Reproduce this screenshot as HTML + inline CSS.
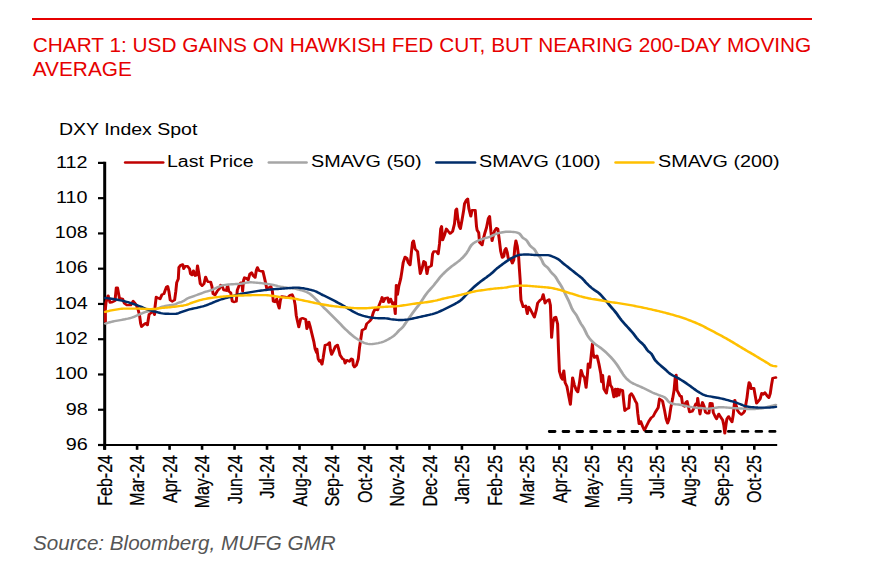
<!DOCTYPE html>
<html><head><meta charset="utf-8"><title>Chart 1</title>
<style>
html,body{margin:0;padding:0;background:#fff;}
body{width:878px;height:585px;position:relative;overflow:hidden;font-family:"Liberation Sans",sans-serif;}
.rule{position:absolute;left:32px;top:17.8px;width:780px;height:2.2px;background:#e60000;}
.title{position:absolute;left:32.8px;top:33px;width:800px;font-size:20.8px;line-height:24.3px;color:#e60000;white-space:nowrap;}
.src{position:absolute;left:33px;top:531px;font-size:20.63px;line-height:24px;font-style:italic;color:#555;white-space:nowrap;}
.t{position:absolute;font-size:16px;line-height:18px;color:#000;white-space:nowrap;transform-origin:0 50%;transform:scaleX(1.235);}
.yl{position:absolute;font-size:16px;line-height:18px;color:#000;white-space:nowrap;transform-origin:100% 50%;transform:scaleX(1.235);right:790.2px;text-align:right;}
.xl{-webkit-text-stroke:0.2px #000;position:absolute;font-size:16px;line-height:18px;height:18px;color:#000;white-space:nowrap;transform-origin:0 0;}
svg{position:absolute;left:0;top:0;}
</style></head><body>
<div class="rule"></div>
<div class="title">CHART 1: USD GAINS ON HAWKISH FED CUT, BUT NEARING 200-DAY MOVING<br>AVERAGE</div>

<div class="t" style="left:58.9px;top:121px;transform:scaleX(1.218)">DXY Index Spot</div>
<div class="t" style="left:167.3px;top:153px;transform:scaleX(1.218)">Last Price</div>
<div class="t" style="left:310.5px;top:153px;transform:scaleX(1.235)">SMAVG (50)</div>
<div class="t" style="left:478.8px;top:153px;transform:scaleX(1.235)">SMAVG (100)</div>
<div class="t" style="left:657.6px;top:153px;transform:scaleX(1.235)">SMAVG (200)</div>
<div class="yl" style="top:154px">112</div>
<div class="yl" style="top:189px">110</div>
<div class="yl" style="top:224px">108</div>
<div class="yl" style="top:259px">106</div>
<div class="yl" style="top:295px">104</div>
<div class="yl" style="top:330px">102</div>
<div class="yl" style="top:365px">100</div>
<div class="yl" style="top:401px">98</div>
<div class="yl" style="top:436px">96</div>
<svg width="878" height="585" viewBox="0 0 878 585"><line x1="104.7" y1="161.8" x2="104.7" y2="449.8" stroke="#000" stroke-width="3"/>
<line x1="103.3" y1="445.0" x2="777.2" y2="445.0" stroke="#000" stroke-width="2.2"/>
<line x1="98" y1="162.90" x2="104.7" y2="162.90" stroke="#000" stroke-width="2.2"/>
<line x1="98" y1="198.16" x2="104.7" y2="198.16" stroke="#000" stroke-width="2.2"/>
<line x1="98" y1="233.43" x2="104.7" y2="233.43" stroke="#000" stroke-width="2.2"/>
<line x1="98" y1="268.69" x2="104.7" y2="268.69" stroke="#000" stroke-width="2.2"/>
<line x1="98" y1="303.95" x2="104.7" y2="303.95" stroke="#000" stroke-width="2.2"/>
<line x1="98" y1="339.21" x2="104.7" y2="339.21" stroke="#000" stroke-width="2.2"/>
<line x1="98" y1="374.48" x2="104.7" y2="374.48" stroke="#000" stroke-width="2.2"/>
<line x1="98" y1="409.74" x2="104.7" y2="409.74" stroke="#000" stroke-width="2.2"/>
<line x1="98" y1="445.00" x2="104.7" y2="445.00" stroke="#000" stroke-width="2.2"/>
<line x1="104.60" y1="445.0" x2="104.60" y2="449.8" stroke="#000" stroke-width="2.6"/>
<line x1="137.08" y1="445.0" x2="137.08" y2="449.8" stroke="#000" stroke-width="2.6"/>
<line x1="169.57" y1="445.0" x2="169.57" y2="449.8" stroke="#000" stroke-width="2.6"/>
<line x1="202.06" y1="445.0" x2="202.06" y2="449.8" stroke="#000" stroke-width="2.6"/>
<line x1="234.54" y1="445.0" x2="234.54" y2="449.8" stroke="#000" stroke-width="2.6"/>
<line x1="267.02" y1="445.0" x2="267.02" y2="449.8" stroke="#000" stroke-width="2.6"/>
<line x1="299.51" y1="445.0" x2="299.51" y2="449.8" stroke="#000" stroke-width="2.6"/>
<line x1="332.00" y1="445.0" x2="332.00" y2="449.8" stroke="#000" stroke-width="2.6"/>
<line x1="364.48" y1="445.0" x2="364.48" y2="449.8" stroke="#000" stroke-width="2.6"/>
<line x1="396.97" y1="445.0" x2="396.97" y2="449.8" stroke="#000" stroke-width="2.6"/>
<line x1="429.45" y1="445.0" x2="429.45" y2="449.8" stroke="#000" stroke-width="2.6"/>
<line x1="461.93" y1="445.0" x2="461.93" y2="449.8" stroke="#000" stroke-width="2.6"/>
<line x1="494.42" y1="445.0" x2="494.42" y2="449.8" stroke="#000" stroke-width="2.6"/>
<line x1="526.90" y1="445.0" x2="526.90" y2="449.8" stroke="#000" stroke-width="2.6"/>
<line x1="559.39" y1="445.0" x2="559.39" y2="449.8" stroke="#000" stroke-width="2.6"/>
<line x1="591.88" y1="445.0" x2="591.88" y2="449.8" stroke="#000" stroke-width="2.6"/>
<line x1="624.36" y1="445.0" x2="624.36" y2="449.8" stroke="#000" stroke-width="2.6"/>
<line x1="656.85" y1="445.0" x2="656.85" y2="449.8" stroke="#000" stroke-width="2.6"/>
<line x1="689.33" y1="445.0" x2="689.33" y2="449.8" stroke="#000" stroke-width="2.6"/>
<line x1="721.82" y1="445.0" x2="721.82" y2="449.8" stroke="#000" stroke-width="2.6"/>
<line x1="754.30" y1="445.0" x2="754.30" y2="449.8" stroke="#000" stroke-width="2.6"/>
<g transform="scale(1.24,1)" fill="none" stroke-width="2.4" stroke-linejoin="round" stroke-linecap="round">
<polyline points="85.00,321.50 84.92,310.00 85.48,302.50 87.18,295.60 88.71,302.60 90.73,302.00 92.74,300.80 93.79,287.60 94.76,287.60 96.29,298.20 98.87,298.90 100.32,303.30 102.34,305.10 105.40,305.10 107.42,301.10 108.47,302.60 109.92,305.10 111.45,310.00 112.50,315.00 113.47,323.80 114.19,326.70 116.05,324.50 117.50,323.20 118.87,325.10 119.52,320.00 120.24,314.40 122.10,312.60 123.63,311.30 124.60,314.80 125.08,306.30 125.97,297.00 127.66,298.20 129.11,298.90 130.65,294.50 132.18,293.90 134.19,287.00 135.24,286.30 136.21,291.40 137.26,300.10 138.79,301.40 140.81,300.10 141.77,291.40 142.50,282.60 143.79,278.80 144.27,267.50 145.81,265.00 147.34,264.40 148.15,268.80 149.35,266.30 151.37,266.30 152.90,268.80 153.63,273.80 154.92,275.10 155.97,270.70 157.42,275.70 158.47,275.10 159.27,265.70 160.24,272.60 161.53,283.80 162.98,285.70 164.52,283.80 165.81,276.90 167.02,280.70 167.82,281.90 169.84,281.90 170.89,286.30 171.85,293.80 173.39,295.10 175.40,290.70 176.94,288.80 177.98,285.10 178.95,285.70 180.48,290.10 182.50,290.70 183.55,285.10 184.52,291.30 186.05,292.60 187.34,301.40 189.03,302.00 190.56,301.40 191.37,290.10 192.58,286.30 194.11,282.60 195.16,282.60 195.65,291.30 196.45,280.10 197.18,277.60 198.71,278.20 200.16,280.10 201.53,273.80 202.90,272.50 204.19,275.70 205.73,277.60 206.77,270.00 207.58,267.50 208.79,270.70 210.81,271.30 212.02,271.30 212.98,276.30 214.35,283.80 215.08,288.20 216.85,287.60 218.39,286.30 219.68,291.30 220.40,301.40 221.69,302.00 223.15,298.90 224.11,303.90 225.16,308.30 226.13,300.10 227.18,296.40 230.00,297.00 232.02,297.60 234.03,295.10 235.56,294.50 237.10,298.90 238.06,305.10 238.87,315.20 239.92,321.40 240.97,327.00 242.50,318.80 243.95,318.20 246.53,319.40 247.50,328.80 249.03,321.90 250.08,326.30 251.53,333.80 253.06,341.40 254.11,348.90 255.32,352.60 255.56,348.90 256.61,358.90 257.58,361.40 258.31,360.20 259.68,364.30 260.65,357.70 262.18,345.10 264.19,344.50 265.73,342.40 266.45,350.10 267.42,354.50 268.71,351.40 270.48,346.40 272.10,344.90 273.06,348.90 274.27,355.20 276.29,358.90 277.50,359.50 278.31,363.30 279.84,360.20 281.85,361.40 283.39,358.70 284.44,359.50 284.92,365.20 285.89,367.10 287.42,365.20 288.95,358.90 289.92,347.60 291.29,336.40 292.02,330.10 294.52,328.80 295.73,323.80 298.06,321.30 299.60,318.80 301.05,312.50 302.58,308.80 304.60,310.00 305.81,305.00 307.42,300.00 308.15,297.30 309.19,301.90 310.65,298.10 312.66,297.80 313.55,302.60 315.00,298.90 316.53,303.90 317.74,302.60 318.79,313.90 319.35,292.60 319.60,285.10 320.56,294.50 321.61,286.30 323.15,278.80 324.11,271.30 325.16,262.50 326.69,256.90 328.15,258.10 329.19,262.50 330.73,265.00 331.77,252.70 332.66,242.60 333.47,240.80 334.76,248.90 336.77,251.40 337.74,262.00 338.95,273.80 340.32,268.80 341.77,261.30 343.06,262.50 344.35,273.80 345.32,267.50 347.90,265.70 348.87,253.90 349.84,251.40 351.94,251.40 353.39,253.90 354.44,243.90 355.40,228.80 356.13,226.30 356.94,240.10 358.47,235.10 360.00,228.80 361.53,231.40 362.98,233.60 365.00,231.40 366.53,223.80 367.58,210.10 368.31,208.80 369.11,217.60 370.32,226.30 371.29,228.80 372.58,220.10 373.95,210.10 374.60,203.80 376.13,200.00 377.18,198.80 378.15,208.80 379.68,216.30 380.73,210.10 383.23,210.10 384.27,226.30 384.76,230.10 386.05,232.60 386.77,242.60 388.79,245.10 389.76,238.90 390.81,233.90 392.34,227.60 393.87,218.20 394.84,216.30 395.89,231.40 396.85,240.80 398.71,231.30 400.24,228.20 401.45,228.80 402.42,237.60 403.79,251.30 405.08,257.60 406.29,256.40 407.10,250.10 408.06,248.20 409.11,252.60 409.84,258.20 411.85,258.90 413.15,263.20 414.35,260.10 415.16,247.60 416.05,240.70 417.18,246.30 418.23,256.40 418.87,268.90 419.60,282.00 419.76,292.50 420.16,300.10 421.94,306.90 423.95,305.70 425.24,313.80 426.45,306.90 427.98,310.10 429.52,313.80 430.97,317.30 432.50,310.10 433.55,303.20 435.56,300.10 437.10,298.80 438.06,294.40 439.60,303.20 441.13,300.70 442.82,299.40 443.87,305.10 444.44,323.90 444.84,337.60 445.89,322.60 447.18,317.60 448.23,317.00 449.68,323.90 450.40,350.00 451.13,371.30 452.66,377.60 453.63,379.50 454.68,370.70 455.73,382.60 457.18,386.40 458.71,396.40 460.00,404.50 460.97,390.10 461.77,377.60 463.23,385.10 464.76,390.10 465.97,392.00 467.34,382.60 468.63,370.10 469.84,375.10 471.37,377.60 472.66,387.60 473.87,372.60 474.35,363.80 475.73,367.60 476.69,356.30 477.74,343.80 478.39,353.80 479.44,357.60 481.45,355.70 482.98,363.80 484.52,373.80 485.16,382.00 485.97,375.10 487.02,388.90 489.03,393.30 490.08,385.10 491.29,376.40 492.26,385.10 493.55,387.60 495.08,397.00 496.29,388.90 497.18,396.40 498.15,388.90 499.11,395.20 500.08,389.50 502.10,390.40 503.06,402.00 503.87,410.70 505.56,408.90 507.10,408.20 507.90,395.50 509.19,393.50 510.65,396.30 512.26,400.70 513.55,403.60 514.35,413.90 515.40,423.90 516.69,421.40 518.23,426.40 519.68,430.20 521.21,426.40 523.23,421.40 525.24,417.60 526.77,416.40 528.31,412.60 530.81,407.60 531.85,398.80 533.39,400.10 534.35,401.30 535.89,410.10 537.18,418.90 538.39,423.30 539.60,418.90 540.97,407.60 542.42,398.80 543.63,390.10 544.52,377.50 545.32,375.00 545.97,390.10 547.50,393.80 548.55,396.30 549.52,396.30 550.56,405.10 552.02,406.40 553.06,402.60 554.11,401.30 555.08,406.40 556.13,412.00 558.15,411.40 559.60,408.20 561.13,403.80 562.18,405.10 562.66,398.20 563.71,407.60 564.52,414.20 565.48,407.00 566.53,402.30 567.90,406.70 568.95,412.30 570.24,413.20 571.77,413.20 572.66,403.20 574.35,403.50 575.24,412.60 576.69,416.40 577.90,418.90 579.68,413.90 580.81,416.40 582.82,420.10 583.71,425.20 584.52,433.30 585.56,423.90 586.21,418.90 587.58,416.40 588.79,418.90 590.32,422.00 591.29,415.10 592.02,406.40 592.58,400.10 593.79,406.40 594.84,410.70 596.37,413.20 597.90,414.50 599.35,413.20 600.40,411.40 601.37,405.10 602.42,397.60 603.39,387.60 604.11,382.50 604.92,383.80 605.73,388.80 606.94,388.20 607.98,388.20 608.95,395.10 610.16,403.20 611.53,401.30 613.06,398.80 614.27,393.20 615.56,394.40 616.85,392.60 618.55,395.70 620.08,397.80 621.13,393.80 622.10,385.70 623.15,378.20 625.65,377.50" stroke="#c00000"/>
<polyline points="85.00,323.60 86.21,323.13 87.42,322.68 88.63,322.25 89.84,321.86 91.05,321.51 92.26,321.19 93.47,320.91 94.68,320.64 95.89,320.37 97.10,320.11 98.31,319.83 99.52,319.54 100.73,319.26 101.94,318.95 103.15,318.62 104.35,318.26 105.56,317.85 106.77,317.40 107.98,316.86 109.19,316.20 110.40,315.51 111.61,314.86 112.82,314.21 114.03,313.57 115.24,312.97 116.45,312.43 117.66,311.94 118.87,311.50 120.08,311.06 121.29,310.61 122.50,310.16 123.71,309.72 124.92,309.27 126.13,308.80 127.34,308.28 128.55,307.72 129.76,307.17 130.97,306.68 132.18,306.28 133.39,305.92 134.60,305.60 135.81,305.34 137.02,305.15 138.23,304.98 139.44,304.77 140.65,304.49 141.85,304.05 143.06,303.31 144.27,302.63 145.48,302.27 146.69,301.86 147.90,301.09 149.11,300.10 150.32,299.11 151.53,298.31 152.74,297.67 153.95,297.08 155.16,296.54 156.37,296.03 157.58,295.51 158.79,294.99 160.00,294.44 161.21,293.87 162.42,293.30 163.63,292.74 164.84,292.20 166.05,291.72 167.26,291.28 168.47,290.86 169.68,290.41 170.89,289.87 172.10,289.21 173.31,288.48 174.52,287.77 175.73,287.14 176.94,286.52 178.15,285.93 179.35,285.43 180.56,285.08 181.77,284.86 182.98,284.69 184.19,284.54 185.40,284.42 186.61,284.31 187.82,284.22 189.03,284.14 190.24,284.07 191.45,283.99 192.66,283.89 193.87,283.77 195.08,283.57 196.29,283.29 197.50,282.98 198.71,282.69 199.92,282.45 201.13,282.32 202.34,282.31 203.55,282.37 204.76,282.48 205.97,282.61 207.18,282.74 208.39,282.87 209.60,283.01 210.81,283.16 212.02,283.32 213.23,283.50 214.44,283.69 215.65,283.90 216.85,284.13 218.06,284.38 219.27,284.65 220.48,284.94 221.69,285.30 222.90,285.69 224.11,286.08 225.32,286.43 226.53,286.73 227.74,286.99 228.95,287.24 230.16,287.46 231.37,287.68 232.58,287.90 233.79,288.09 235.00,288.27 236.21,288.45 237.42,288.67 238.63,288.93 239.84,289.24 241.05,289.61 242.26,290.01 243.47,290.45 244.68,290.92 245.89,291.42 247.10,291.97 248.31,292.63 249.52,293.44 250.73,294.64 251.94,295.94 253.15,297.27 254.35,298.69 255.56,300.24 256.77,301.87 257.98,303.51 259.19,305.10 260.40,306.63 261.61,308.13 262.82,309.61 264.03,311.10 265.24,312.60 266.45,314.10 267.66,315.60 268.87,317.10 270.08,318.60 271.29,320.10 272.50,321.60 273.71,323.10 274.92,324.61 276.13,326.13 277.34,327.65 278.55,329.14 279.76,330.57 280.97,331.97 282.18,333.33 283.39,334.64 284.60,335.86 285.81,337.02 287.02,338.13 288.23,339.17 289.44,340.10 290.65,340.98 291.85,341.82 293.06,342.56 294.27,343.12 295.48,343.51 296.69,343.85 297.90,344.07 299.11,344.09 300.32,343.99 301.53,343.82 302.74,343.59 303.95,343.34 305.16,343.07 306.37,342.72 307.58,342.29 308.79,341.79 310.00,341.25 311.21,340.59 312.42,339.82 313.63,338.98 314.84,338.08 316.05,337.11 317.26,336.04 318.47,334.84 319.68,333.42 320.89,331.72 322.10,330.07 323.31,328.80 324.52,327.49 325.73,325.62 326.94,323.44 328.15,321.20 329.35,319.07 330.56,316.93 331.77,314.77 332.98,312.64 334.19,310.60 335.40,308.66 336.61,306.76 337.82,304.82 339.03,302.78 340.24,300.54 341.45,298.20 342.66,295.91 343.87,293.80 345.08,291.93 346.29,290.19 347.50,288.52 348.71,286.85 349.92,285.10 351.13,283.22 352.34,281.26 353.55,279.30 354.76,277.42 355.97,275.70 357.18,274.13 358.39,272.65 359.60,271.24 360.81,269.89 362.02,268.59 363.23,267.34 364.44,266.17 365.65,265.07 366.85,264.00 368.06,262.91 369.27,261.74 370.48,260.54 371.69,259.29 372.90,257.90 374.11,256.31 375.32,254.52 376.53,252.53 377.74,250.25 378.95,247.40 380.16,245.10 381.37,243.71 382.58,242.62 383.79,241.72 385.00,240.95 386.21,240.29 387.42,239.71 388.63,239.18 389.84,238.66 391.05,238.21 392.26,237.79 393.47,237.36 394.68,236.88 395.89,236.31 397.10,235.60 398.31,234.86 399.52,234.25 400.73,233.72 401.94,233.23 403.15,232.80 404.35,232.48 405.56,232.21 406.77,231.96 407.98,231.78 409.19,231.70 410.40,231.72 411.61,231.78 412.82,231.89 414.03,232.02 415.24,232.18 416.45,232.42 417.66,232.85 418.87,233.50 420.08,235.24 421.29,237.40 422.50,238.52 423.71,239.40 424.92,240.78 426.13,243.16 427.34,245.47 428.55,246.90 429.76,248.02 430.97,249.39 432.18,251.65 433.39,254.22 434.60,255.99 435.81,257.65 437.02,260.39 438.23,263.74 439.44,265.49 440.65,266.59 441.85,267.92 443.06,269.90 444.27,271.99 445.48,273.62 446.69,275.00 447.90,276.66 449.11,279.08 450.32,281.66 451.53,283.92 452.74,286.30 453.95,289.12 455.16,292.18 456.37,295.19 457.58,298.18 458.79,301.30 460.00,304.91 461.21,308.53 462.42,311.18 463.63,313.07 464.84,315.10 466.05,317.95 467.26,321.10 468.47,323.73 469.68,325.88 470.89,328.20 472.10,331.29 473.31,334.50 474.52,336.96 475.73,338.99 476.94,340.65 478.15,342.06 479.35,343.33 480.56,344.54 481.77,345.65 482.98,346.69 484.19,347.74 485.40,348.90 486.61,350.12 487.82,351.39 489.03,352.74 490.24,354.17 491.45,355.67 492.66,357.26 493.87,358.93 495.08,360.70 496.29,362.61 497.50,364.67 498.71,366.85 499.92,369.19 501.13,371.65 502.34,373.99 503.55,376.17 504.76,377.89 505.97,379.41 507.18,380.75 508.39,381.91 509.60,382.85 510.81,383.63 512.02,384.30 513.23,384.94 514.44,385.62 515.65,386.28 516.85,386.93 518.06,387.58 519.27,388.24 520.48,388.94 521.69,389.70 522.90,390.49 524.11,391.28 525.32,392.04 526.53,392.73 527.74,393.36 528.95,393.94 530.16,394.51 531.37,395.10 532.58,395.64 533.79,396.14 535.00,396.72 536.21,397.48 537.42,398.94 538.63,401.00 539.84,402.33 541.05,403.19 542.26,403.75 543.47,404.05 544.68,404.25 545.89,404.41 547.10,404.56 548.31,404.75 549.52,405.02 550.73,405.34 551.94,405.69 553.15,406.03 554.35,406.34 555.56,406.62 556.77,406.89 557.98,407.15 559.19,407.37 560.40,407.57 561.61,407.72 562.82,407.84 564.03,407.95 565.24,408.05 566.45,408.17 567.66,408.34 568.87,408.54 570.08,408.68 571.29,408.68 572.50,408.55 573.71,408.35 574.92,408.13 576.13,407.94 577.34,407.70 578.55,407.45 579.76,407.26 580.97,407.20 582.18,407.23 583.39,407.31 584.60,407.41 585.81,407.52 587.02,407.62 588.23,407.73 589.44,407.86 590.65,407.99 591.85,408.12 593.06,408.22 594.27,408.31 595.48,408.38 596.69,408.46 597.90,408.53 599.11,408.62 600.32,408.73 601.53,408.87 602.74,408.99 603.95,409.08 605.16,409.10 606.37,409.08 607.58,409.03 608.79,408.97 610.00,408.90 611.21,408.80 612.42,408.65 613.63,408.46 614.84,408.25 616.05,407.97 617.26,407.59 618.47,407.16 619.68,406.73 620.89,406.35 622.10,405.97 623.31,405.60 624.52,405.24 625.65,404.90" stroke="#a6a6a6"/>
<polyline points="85.00,298.00 86.21,298.16 87.42,298.34 88.63,298.53 89.84,298.74 91.05,298.96 92.26,299.20 93.47,299.45 94.68,299.72 95.89,300.01 97.10,300.32 98.31,300.64 99.52,300.99 100.73,301.37 101.94,301.79 103.15,302.24 104.35,302.70 105.56,303.17 106.77,303.65 107.98,304.15 109.19,304.67 110.40,305.21 111.61,305.76 112.82,306.32 114.03,306.92 115.24,307.57 116.45,308.23 117.66,308.86 118.87,309.43 120.08,309.93 121.29,310.40 122.50,310.84 123.71,311.25 124.92,311.64 126.13,312.00 127.34,312.36 128.55,312.73 129.76,313.08 130.97,313.38 132.18,313.60 133.39,313.71 134.60,313.76 135.81,313.80 137.02,313.84 138.23,313.87 139.44,313.89 140.65,313.90 141.85,313.86 143.06,313.53 144.27,312.99 145.48,312.39 146.69,311.87 147.90,311.35 149.11,310.81 150.32,310.30 151.53,309.84 152.74,309.46 153.95,309.10 155.16,308.77 156.37,308.45 157.58,308.13 158.79,307.79 160.00,307.43 161.21,307.08 162.42,306.71 163.63,306.32 164.84,305.88 166.05,305.38 167.26,304.83 168.47,304.25 169.68,303.66 170.89,303.06 172.10,302.42 173.31,301.76 174.52,301.13 175.73,300.55 176.94,300.01 178.15,299.50 179.35,299.02 180.56,298.57 181.77,298.17 182.98,297.80 184.19,297.43 185.40,297.05 186.61,296.63 187.82,296.18 189.03,295.71 190.24,295.24 191.45,294.80 192.66,294.39 193.87,294.03 195.08,293.72 196.29,293.44 197.50,293.17 198.71,292.91 199.92,292.67 201.13,292.42 202.34,292.16 203.55,291.91 204.76,291.66 205.97,291.41 207.18,291.17 208.39,290.94 209.60,290.73 210.81,290.52 212.02,290.32 213.23,290.13 214.44,289.95 215.65,289.78 216.85,289.62 218.06,289.48 219.27,289.36 220.48,289.25 221.69,289.15 222.90,289.06 224.11,288.96 225.32,288.86 226.53,288.75 227.74,288.63 228.95,288.51 230.16,288.39 231.37,288.26 232.58,288.14 233.79,287.99 235.00,287.83 236.21,287.70 237.42,287.61 238.63,287.61 239.84,287.67 241.05,287.79 242.26,287.94 243.47,288.11 244.68,288.29 245.89,288.56 247.10,288.88 248.31,289.24 249.52,289.59 250.73,289.94 251.94,290.32 253.15,290.74 254.35,291.25 255.56,291.91 256.77,292.70 257.98,293.55 259.19,294.38 260.40,295.14 261.61,295.83 262.82,296.51 264.03,297.20 265.24,297.95 266.45,298.74 267.66,299.54 268.87,300.34 270.08,301.11 271.29,301.87 272.50,302.64 273.71,303.42 274.92,304.25 276.13,305.11 277.34,306.00 278.55,306.90 279.76,307.80 280.97,308.72 282.18,309.65 283.39,310.56 284.60,311.41 285.81,312.23 287.02,313.03 288.23,313.77 289.44,314.40 290.65,314.93 291.85,315.41 293.06,315.84 294.27,316.23 295.48,316.59 296.69,316.94 297.90,317.25 299.11,317.51 300.32,317.72 301.53,317.91 302.74,318.06 303.95,318.17 305.16,318.21 306.37,318.24 307.58,318.25 308.79,318.26 310.00,318.28 311.21,318.34 312.42,318.52 313.63,318.79 314.84,319.08 316.05,319.33 317.26,319.50 318.47,319.66 319.68,319.81 320.89,319.93 322.10,319.99 323.31,319.99 324.52,319.93 325.73,319.84 326.94,319.71 328.15,319.57 329.35,319.41 330.56,319.16 331.77,318.84 332.98,318.50 334.19,318.15 335.40,317.83 336.61,317.51 337.82,317.19 339.03,316.87 340.24,316.53 341.45,316.19 342.66,315.85 343.87,315.50 345.08,315.16 346.29,314.82 347.50,314.46 348.71,314.08 349.92,313.67 351.13,313.20 352.34,312.65 353.55,312.03 354.76,311.35 355.97,310.65 357.18,309.96 358.39,309.27 359.60,308.56 360.81,307.83 362.02,307.08 363.23,306.31 364.44,305.53 365.65,304.73 366.85,303.93 368.06,303.12 369.27,302.24 370.48,301.27 371.69,300.15 372.90,298.77 374.11,297.23 375.32,295.63 376.53,294.10 377.74,292.55 378.95,290.98 380.16,289.45 381.37,288.02 382.58,286.67 383.79,285.38 385.00,284.14 386.21,282.93 387.42,281.74 388.63,280.61 389.84,279.51 391.05,278.43 392.26,277.35 393.47,276.22 394.68,275.09 395.89,273.94 397.10,272.69 398.31,271.19 399.52,269.74 400.73,268.48 401.94,267.29 403.15,266.15 404.35,265.03 405.56,263.91 406.77,262.82 407.98,261.76 409.19,260.76 410.40,259.79 411.61,258.84 412.82,257.96 414.03,257.18 415.24,256.51 416.45,255.85 417.66,255.28 418.87,254.89 420.08,254.73 421.29,254.63 422.50,254.55 423.71,254.51 424.92,254.50 426.13,254.55 427.34,254.64 428.55,254.76 429.76,254.87 430.97,254.98 432.18,255.06 433.39,255.10 434.60,255.10 435.81,255.10 437.02,255.10 438.23,255.10 439.44,255.10 440.65,255.10 441.85,255.11 443.06,255.38 444.27,255.90 445.48,256.49 446.69,257.06 447.90,257.70 449.11,258.45 450.32,259.34 451.53,260.47 452.74,261.75 453.95,263.07 455.16,264.30 456.37,265.49 457.58,266.68 458.79,267.87 460.00,269.06 461.21,270.25 462.42,271.43 463.63,272.62 464.84,273.82 466.05,274.99 467.26,276.13 468.47,277.31 469.68,278.62 470.89,280.19 472.10,281.98 473.31,283.60 474.52,285.06 475.73,286.44 476.94,287.74 478.15,288.96 479.35,290.02 480.56,290.98 481.77,291.97 482.98,293.12 484.19,294.52 485.40,296.14 486.61,297.88 487.82,299.64 489.03,301.38 490.24,303.18 491.45,304.99 492.66,306.77 493.87,308.47 495.08,310.18 496.29,312.00 497.50,313.98 498.71,316.04 499.92,318.10 501.13,320.05 502.34,321.86 503.55,323.59 504.76,325.25 505.97,326.89 507.18,328.53 508.39,330.19 509.60,331.90 510.81,333.70 512.02,335.62 513.23,337.56 514.44,339.40 515.65,341.01 516.85,342.36 518.06,343.68 519.27,345.22 520.48,347.31 521.69,349.58 522.90,351.28 524.11,352.44 525.32,353.79 526.53,356.20 527.74,359.10 528.95,361.07 530.16,362.59 531.37,363.93 532.58,365.27 533.79,366.58 535.00,367.84 536.21,369.12 537.42,370.51 538.63,371.96 539.84,373.28 541.05,374.32 542.26,375.16 543.47,375.91 544.68,376.66 545.89,377.48 547.10,378.33 548.31,379.20 549.52,380.10 550.73,381.03 551.94,382.00 553.15,383.01 554.35,384.04 555.56,385.10 556.77,386.20 557.98,387.33 559.19,388.44 560.40,389.50 561.61,390.54 562.82,391.55 564.03,392.49 565.24,393.36 566.45,394.21 567.66,394.96 568.87,395.49 570.08,395.86 571.29,396.17 572.50,396.43 573.71,396.69 574.92,396.96 576.13,397.21 577.34,397.45 578.55,397.70 579.76,397.98 580.97,398.29 582.18,398.64 583.39,399.00 584.60,399.39 585.81,399.78 587.02,400.18 588.23,400.59 589.44,401.01 590.65,401.46 591.85,401.92 593.06,402.40 594.27,402.92 595.48,403.47 596.69,404.03 597.90,404.62 599.11,405.26 600.32,405.81 601.53,406.18 602.74,406.49 603.95,406.75 605.16,406.97 606.37,407.14 607.58,407.26 608.79,407.38 610.00,407.48 611.21,407.55 612.42,407.59 613.63,407.60 614.84,407.60 616.05,407.60 617.26,407.60 618.47,407.60 619.68,407.59 620.89,407.53 622.10,407.42 623.31,407.26 624.52,407.08 625.65,406.90" stroke="#002d6a"/>
<polyline points="85.00,311.80 86.21,311.41 87.42,311.05 88.63,310.70 89.84,310.40 91.05,310.13 92.26,309.87 93.47,309.61 94.68,309.35 95.89,309.12 97.10,308.91 98.31,308.75 99.52,308.64 100.73,308.60 101.94,308.60 103.15,308.60 104.35,308.60 105.56,308.60 106.77,308.60 107.98,308.60 109.19,308.60 110.40,308.60 111.61,308.61 112.82,308.64 114.03,308.71 115.24,308.79 116.45,308.88 117.66,308.97 118.87,309.04 120.08,309.09 121.29,309.10 122.50,309.06 123.71,308.96 124.92,308.82 126.13,308.66 127.34,308.47 128.55,308.28 129.76,308.10 130.97,307.93 132.18,307.78 133.39,307.64 134.60,307.49 135.81,307.34 137.02,307.19 138.23,307.04 139.44,306.87 140.65,306.70 141.85,306.51 143.06,306.33 144.27,306.14 145.48,305.93 146.69,305.70 147.90,305.45 149.11,305.16 150.32,304.80 151.53,304.33 152.74,303.78 153.95,303.19 155.16,302.59 156.37,302.03 157.58,301.54 158.79,301.09 160.00,300.65 161.21,300.23 162.42,299.83 163.63,299.46 164.84,299.12 166.05,298.82 167.26,298.54 168.47,298.28 169.68,298.04 170.89,297.82 172.10,297.61 173.31,297.41 174.52,297.23 175.73,297.07 176.94,296.91 178.15,296.76 179.35,296.62 180.56,296.49 181.77,296.37 182.98,296.24 184.19,296.12 185.40,296.01 186.61,295.90 187.82,295.81 189.03,295.73 190.24,295.67 191.45,295.61 192.66,295.57 193.87,295.53 195.08,295.49 196.29,295.45 197.50,295.41 198.71,295.36 199.92,295.30 201.13,295.24 202.34,295.18 203.55,295.14 204.76,295.11 205.97,295.10 207.18,295.10 208.39,295.10 209.60,295.10 210.81,295.10 212.02,295.10 213.23,295.10 214.44,295.11 215.65,295.21 216.85,295.38 218.06,295.58 219.27,295.80 220.48,295.99 221.69,296.21 222.90,296.45 224.11,296.70 225.32,296.94 226.53,297.17 227.74,297.37 228.95,297.52 230.16,297.66 231.37,297.77 232.58,297.89 233.79,298.03 235.00,298.19 236.21,298.40 237.42,298.66 238.63,298.95 239.84,299.26 241.05,299.58 242.26,299.88 243.47,300.18 244.68,300.50 245.89,300.82 247.10,301.14 248.31,301.46 249.52,301.77 250.73,302.09 251.94,302.41 253.15,302.73 254.35,303.05 255.56,303.37 256.77,303.67 257.98,303.96 259.19,304.24 260.40,304.52 261.61,304.79 262.82,305.04 264.03,305.29 265.24,305.53 266.45,305.74 267.66,305.95 268.87,306.14 270.08,306.32 271.29,306.50 272.50,306.67 273.71,306.83 274.92,306.98 276.13,307.13 277.34,307.28 278.55,307.42 279.76,307.55 280.97,307.67 282.18,307.78 283.39,307.88 284.60,307.99 285.81,308.09 287.02,308.16 288.23,308.20 289.44,308.20 290.65,308.20 291.85,308.20 293.06,308.20 294.27,308.20 295.48,308.18 296.69,308.11 297.90,308.00 299.11,307.87 300.32,307.74 301.53,307.60 302.74,307.49 303.95,307.38 305.16,307.26 306.37,307.15 307.58,307.04 308.79,306.94 310.00,306.84 311.21,306.77 312.42,306.70 313.63,306.65 314.84,306.60 316.05,306.55 317.26,306.49 318.47,306.41 319.68,306.29 320.89,306.13 322.10,305.94 323.31,305.72 324.52,305.50 325.73,305.27 326.94,305.06 328.15,304.84 329.35,304.61 330.56,304.37 331.77,304.14 332.98,303.91 334.19,303.70 335.40,303.50 336.61,303.31 337.82,303.14 339.03,302.98 340.24,302.81 341.45,302.63 342.66,302.43 343.87,302.21 345.08,301.98 346.29,301.74 347.50,301.49 348.71,301.22 349.92,300.94 351.13,300.64 352.34,300.31 353.55,299.94 354.76,299.55 355.97,299.15 357.18,298.76 358.39,298.39 359.60,298.04 360.81,297.72 362.02,297.41 363.23,297.10 364.44,296.79 365.65,296.48 366.85,296.17 368.06,295.83 369.27,295.50 370.48,295.16 371.69,294.81 372.90,294.46 374.11,294.11 375.32,293.75 376.53,293.37 377.74,292.97 378.95,292.56 380.16,292.17 381.37,291.79 382.58,291.46 383.79,291.17 385.00,290.92 386.21,290.69 387.42,290.47 388.63,290.26 389.84,290.06 391.05,289.86 392.26,289.64 393.47,289.43 394.68,289.21 395.89,289.01 397.10,288.81 398.31,288.62 399.52,288.46 400.73,288.32 401.94,288.19 403.15,288.07 404.35,287.95 405.56,287.82 406.77,287.67 407.98,287.48 409.19,287.22 410.40,286.92 411.61,286.63 412.82,286.38 414.03,286.19 415.24,286.00 416.45,285.82 417.66,285.68 418.87,285.61 420.08,285.60 421.29,285.63 422.50,285.68 423.71,285.75 424.92,285.82 426.13,285.91 427.34,285.99 428.55,286.08 429.76,286.20 430.97,286.34 432.18,286.49 433.39,286.64 434.60,286.79 435.81,286.93 437.02,287.05 438.23,287.17 439.44,287.29 440.65,287.41 441.85,287.55 443.06,287.71 444.27,287.91 445.48,288.16 446.69,288.47 447.90,288.81 449.11,289.17 450.32,289.56 451.53,289.95 452.74,290.36 453.95,290.81 455.16,291.28 456.37,291.78 457.58,292.29 458.79,292.78 460.00,293.26 461.21,293.74 462.42,294.23 463.63,294.72 464.84,295.19 466.05,295.65 467.26,296.08 468.47,296.48 469.68,296.87 470.89,297.24 472.10,297.59 473.31,297.93 474.52,298.25 475.73,298.54 476.94,298.82 478.15,299.07 479.35,299.30 480.56,299.53 481.77,299.76 482.98,299.99 484.19,300.23 485.40,300.50 486.61,300.77 487.82,301.05 489.03,301.33 490.24,301.60 491.45,301.85 492.66,302.09 493.87,302.31 495.08,302.52 496.29,302.72 497.50,302.92 498.71,303.13 499.92,303.34 501.13,303.57 502.34,303.81 503.55,304.06 504.76,304.32 505.97,304.58 507.18,304.85 508.39,305.13 509.60,305.41 510.81,305.70 512.02,305.99 513.23,306.29 514.44,306.59 515.65,306.90 516.85,307.20 518.06,307.51 519.27,307.83 520.48,308.14 521.69,308.46 522.90,308.79 524.11,309.12 525.32,309.45 526.53,309.79 527.74,310.13 528.95,310.48 530.16,310.84 531.37,311.20 532.58,311.57 533.79,311.94 535.00,312.32 536.21,312.70 537.42,313.09 538.63,313.49 539.84,313.89 541.05,314.30 542.26,314.72 543.47,315.15 544.68,315.58 545.89,316.03 547.10,316.49 548.31,316.96 549.52,317.44 550.73,317.93 551.94,318.44 553.15,318.97 554.35,319.51 555.56,320.06 556.77,320.63 557.98,321.22 559.19,321.82 560.40,322.44 561.61,323.07 562.82,323.72 564.03,324.40 565.24,325.11 566.45,325.84 567.66,326.60 568.87,327.37 570.08,328.15 571.29,328.94 572.50,329.73 573.71,330.52 574.92,331.31 576.13,332.09 577.34,332.88 578.55,333.67 579.76,334.47 580.97,335.27 582.18,336.08 583.39,336.90 584.60,337.73 585.81,338.56 587.02,339.41 588.23,340.28 589.44,341.17 590.65,342.07 591.85,342.98 593.06,343.90 594.27,344.82 595.48,345.74 596.69,346.66 597.90,347.56 599.11,348.46 600.32,349.34 601.53,350.22 602.74,351.10 603.95,351.97 605.16,352.84 606.37,353.71 607.58,354.59 608.79,355.47 610.00,356.36 611.21,357.26 612.42,358.17 613.63,359.09 614.84,360.00 616.05,360.91 617.26,361.80 618.47,362.68 619.68,363.67 620.89,364.67 622.10,365.46 623.31,365.87 624.52,366.10 625.73,366.20 625.81,366.20" stroke="#ffc000"/>
</g>
<line x1="549.3" y1="431.5" x2="775" y2="431.4" stroke="#000" stroke-width="2.9" stroke-linecap="round" stroke-dasharray="5.7 8.08"/>
<line x1="125.2" y1="162.5" x2="163.2" y2="162.5" stroke="#c00000" stroke-width="2.7" stroke-linecap="round"/>
<line x1="268.9" y1="162.5" x2="306.5" y2="162.5" stroke="#a6a6a6" stroke-width="2.7" stroke-linecap="round"/>
<line x1="436.4" y1="162.5" x2="475" y2="162.5" stroke="#002d6a" stroke-width="2.7" stroke-linecap="round"/>
<line x1="615.6" y1="162.5" x2="653.4" y2="162.5" stroke="#ffc000" stroke-width="2.7" stroke-linecap="round"/></svg>
<div class="xl" style="left:93.74px;top:455.4px;transform:rotate(-90deg) translateX(-100%) scaleY(1.25)">Feb-24</div>
<div class="xl" style="left:126.22px;top:455.4px;transform:rotate(-90deg) translateX(-100%) scaleY(1.25)">Mar-24</div>
<div class="xl" style="left:158.71px;top:455.4px;transform:rotate(-90deg) translateX(-100%) scaleY(1.25)">Apr-24</div>
<div class="xl" style="left:191.19px;top:455.4px;transform:rotate(-90deg) translateX(-100%) scaleY(1.25)">May-24</div>
<div class="xl" style="left:223.68px;top:455.4px;transform:rotate(-90deg) translateX(-100%) scaleY(1.25)">Jun-24</div>
<div class="xl" style="left:256.16px;top:455.4px;transform:rotate(-90deg) translateX(-100%) scaleY(1.25)">Jul-24</div>
<div class="xl" style="left:288.65px;top:455.4px;transform:rotate(-90deg) translateX(-100%) scaleY(1.25)">Aug-24</div>
<div class="xl" style="left:321.13px;top:455.4px;transform:rotate(-90deg) translateX(-100%) scaleY(1.25)">Sep-24</div>
<div class="xl" style="left:353.62px;top:455.4px;transform:rotate(-90deg) translateX(-100%) scaleY(1.25)">Oct-24</div>
<div class="xl" style="left:386.11px;top:455.4px;transform:rotate(-90deg) translateX(-100%) scaleY(1.25)">Nov-24</div>
<div class="xl" style="left:418.59px;top:455.4px;transform:rotate(-90deg) translateX(-100%) scaleY(1.25)">Dec-24</div>
<div class="xl" style="left:451.07px;top:455.4px;transform:rotate(-90deg) translateX(-100%) scaleY(1.25)">Jan-25</div>
<div class="xl" style="left:483.56px;top:455.4px;transform:rotate(-90deg) translateX(-100%) scaleY(1.25)">Feb-25</div>
<div class="xl" style="left:516.04px;top:455.4px;transform:rotate(-90deg) translateX(-100%) scaleY(1.25)">Mar-25</div>
<div class="xl" style="left:548.53px;top:455.4px;transform:rotate(-90deg) translateX(-100%) scaleY(1.25)">Apr-25</div>
<div class="xl" style="left:581.01px;top:455.4px;transform:rotate(-90deg) translateX(-100%) scaleY(1.25)">May-25</div>
<div class="xl" style="left:613.50px;top:455.4px;transform:rotate(-90deg) translateX(-100%) scaleY(1.25)">Jun-25</div>
<div class="xl" style="left:645.99px;top:455.4px;transform:rotate(-90deg) translateX(-100%) scaleY(1.25)">Jul-25</div>
<div class="xl" style="left:678.47px;top:455.4px;transform:rotate(-90deg) translateX(-100%) scaleY(1.25)">Aug-25</div>
<div class="xl" style="left:710.96px;top:455.4px;transform:rotate(-90deg) translateX(-100%) scaleY(1.25)">Sep-25</div>
<div class="xl" style="left:743.44px;top:455.4px;transform:rotate(-90deg) translateX(-100%) scaleY(1.25)">Oct-25</div>
<div class="src">Source: Bloomberg, MUFG GMR</div>
</body></html>
